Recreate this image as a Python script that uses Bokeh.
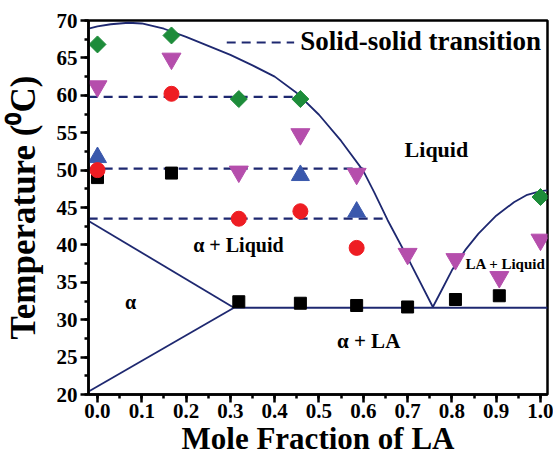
import numpy as np
from bokeh.plotting import figure
from bokeh.models import (Range1d, SingleIntervalTicker, PrintfTickFormatter,
                          Label, Legend, LegendItem)
from bokeh.embed import file_html
from bokeh.resources import INLINE

# ---------------- data ----------------
sq_x = [0.0, 0.167, 0.319, 0.458, 0.585, 0.70, 0.808, 0.907]
sq_T = [49.0, 49.6, 32.4, 32.2, 31.9, 31.7, 32.7, 33.2]

tri_x = [0.0, 0.458, 0.585]
tri_T = [51.7, 49.3, 44.4]

circ_x = [0.0, 0.167, 0.319, 0.458, 0.585]
circ_T = [50.0, 60.2, 43.5, 44.5, 39.6]

inv_x = [0.0, 0.167, 0.319, 0.458, 0.585, 0.70, 0.808, 0.907, 1.0]
inv_T = [61.2, 64.9, 49.8, 54.8, 49.5, 38.8, 38.1, 35.7, 40.7]

dia_x = [0.0, 0.167, 0.319, 0.458, 1.0]
dia_T = [66.8, 68.0, 59.5, 59.5, 46.4]

# liquidus (left branch) and right branch
liqL_x = [-0.02, 0.0, 0.03, 0.07, 0.1, 0.15, 0.2, 0.25, 0.3, 0.35, 0.4, 0.45,
          0.5, 0.55, 0.6, 0.625, 0.655, 0.7, 0.757]
liqL_T = [68.9, 69.2, 69.5, 69.7, 69.6, 68.9, 67.8, 66.6, 65.4, 64.0, 62.5, 60.3,
          57.4, 53.9, 49.9, 47.0, 43.3, 38.3, 31.7]
liqR_x = [0.757, 0.78, 0.8, 0.83, 0.86, 0.9, 0.94, 0.97, 1.0, 1.016]
liqR_T = [31.7, 34.3, 36.6, 39.3, 41.5, 43.9, 45.7, 46.7, 47.2, 47.3]

# solidus / alpha region boundaries
sol_x = [0.308, 1.016]
sol_T = [31.6, 31.6]
alpha_up_x = [-0.02, 0.308]
alpha_up_T = [43.2, 31.6]
alpha_lo_x = [-0.02, 0.308]
alpha_lo_T = [20.4, 31.6]

# solid-solid transitions
ss_T = [59.8, 50.2, 43.5]
ss_start = [-0.02, -0.02, -0.02]
ss_end = [0.45, 0.60, 0.655]

x_tick_interval = 0.1
y_tick_interval = 5

# ---------------- styles ----------------
NAVY = "#1E2870"
FONT = "Liberation Serif"

p = figure(width=553, height=458, output_backend="svg", toolbar_location=None,
           x_range=Range1d(-0.0203, 1.0158), y_range=Range1d(20, 70),
           min_border_left=88, min_border_right=6, min_border_top=20,
           min_border_bottom=64)
p.grid.visible = False
p.outline_line_color = "black"
p.outline_line_width = 2.5
p.outline_line_alpha = 1.0

p.xaxis.ticker = SingleIntervalTicker(interval=x_tick_interval, num_minor_ticks=2)
p.xaxis.formatter = PrintfTickFormatter(format="%.1f")
p.yaxis.ticker = SingleIntervalTicker(interval=y_tick_interval, num_minor_ticks=2)
p.xaxis.axis_label = "Mole Fraction of LA"
p.yaxis.axis_label = "Temperature (\u2070C)"

for ax in (p.xaxis[0], p.yaxis[0]):
    ax.axis_line_width = 2.5
    ax.major_tick_line_width = 2.5
    ax.minor_tick_line_width = 2.5
    ax.major_tick_in = 0
    ax.major_tick_out = 8
    ax.minor_tick_in = 0
    ax.minor_tick_out = 4
    ax.major_label_text_font = FONT
    ax.major_label_text_font_style = "bold"
    ax.major_label_text_font_size = "21px"
    ax.major_label_text_color = "black"
    ax.axis_label_text_font = FONT
    ax.axis_label_text_font_style = "bold"
    ax.axis_label_text_color = "black"

p.xaxis.axis_label_text_font_size = "31px"
p.xaxis.axis_label_text_line_height = 0.9
p.xaxis.major_label_standoff = 1
p.xaxis.axis_label_standoff = 0
p.yaxis.axis_label_text_font_size = "35px"
p.yaxis.major_label_standoff = 3
p.yaxis.axis_label_standoff = 11

# ---------------- lines ----------------
lw = 1.8
p.line(liqL_x, liqL_T, line_color=NAVY, line_width=lw)
p.line(liqR_x, liqR_T, line_color=NAVY, line_width=lw)
p.line(sol_x, sol_T, line_color=NAVY, line_width=lw)
p.line(alpha_up_x, alpha_up_T, line_color=NAVY, line_width=lw)
p.line(alpha_lo_x, alpha_lo_T, line_color=NAVY, line_width=lw)

ss_xs = [[s, e] for s, e in zip(ss_start, ss_end)]
ss_ys = [[t, t] for t in ss_T]
r_ss = p.multi_line(ss_xs, ss_ys, line_color=NAVY, line_width=2.2, line_dash="9 6")

# ---------------- markers ----------------
p.scatter(sq_x, sq_T, marker="square", size=12, fill_color="black", line_color="black")
p.scatter(tri_x, tri_T, marker="triangle", size=18, fill_color="#3A58AC", line_color="#3A58AC")
p.scatter(circ_x, circ_T, marker="circle", size=15, fill_color="#EE1D23", line_color="#EE1D23")
p.scatter(inv_x, inv_T, marker="inverted_triangle", size=19, fill_color="#B54EAC", line_color="#B54EAC")
p.scatter(dia_x, dia_T, marker="square", angle=np.pi / 4, size=12,
          fill_color="#1D8C3A", line_color="#1D8C3A")

# ---------------- region labels ----------------
def lab(x, y, text, size):
    p.add_layout(Label(x=x, y=y, text=text, text_align="center", text_baseline="middle",
                       text_font=FONT, text_font_style="bold", text_font_size=size,
                       text_color="black"))

lab(0.765, 52.75, "Liquid", "22px")
lab(0.318, 39.95, "\u03b1 + Liquid", "20px")
lab(0.0745, 32.3, "\u03b1", "20px")
lab(0.612, 27.2, "\u03b1 + LA", "21px")
lab(0.921, 37.4, "LA + Liquid", "15px")

# ---------------- legend ----------------
legend = Legend(items=[LegendItem(label="Solid-solid transition", renderers=[r_ss])],
                location="top_right", glyph_width=68, glyph_height=20,
                label_standoff=6, padding=0, margin=6, spacing=0,
                border_line_color=None, background_fill_alpha=0,
                label_text_font=FONT, label_text_font_style="bold",
                label_text_font_size="27px", label_text_color="black")
p.add_layout(legend)

open("out.html", "w").write(file_html(p, INLINE))
